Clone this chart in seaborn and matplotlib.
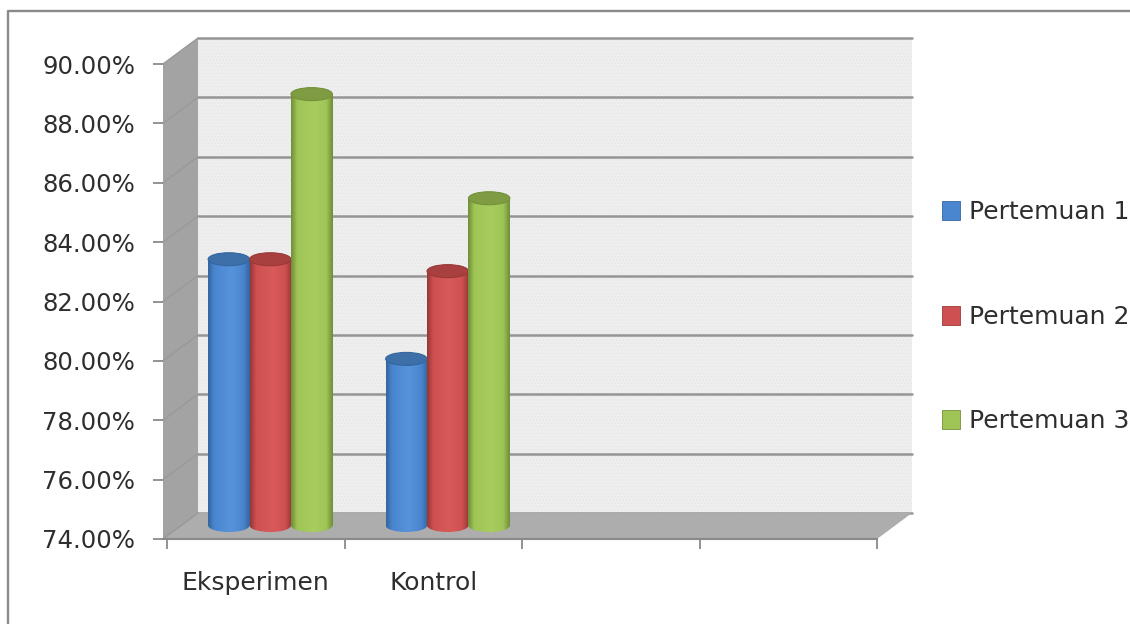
import numpy as np
import pandas as pd
import matplotlib.pyplot as plt
import seaborn as sns
from matplotlib.colors import LinearSegmentedColormap
from matplotlib.lines import Line2D
from matplotlib.patches import Ellipse, Polygon
from matplotlib.ticker import PercentFormatter

# data
kelas = ["Eksperimen", "Kontrol"]
kosong = ["", " "]
pertemuan = ["Pertemuan 1", "Pertemuan 2", "Pertemuan 3"]
nilai_eksperimen = [82.95, 82.95, 88.5]
nilai_kontrol = [79.6, 82.55, 85.0]
tick_y = [74, 76, 78, 80, 82, 84, 86, 88, 90]

warna = ["#4a86d0", "#cf5050", "#9fc556"]
warna_gelap = ["#34669f", "#9a3838", "#72913a"]
warna_atas = ["#3d6fa8", "#a84040", "#7f9c42"]
warna_terang = ["#5793da", "#d85a5a", "#a8cd5e"]

W, H = 1130, 624
sns.set_theme(style="white")
plt.rcParams["font.family"] = ["DejaVu Sans"]
plt.rcParams["hatch.linewidth"] = 0.4


def kotak(x0, y_top, x1, y_bottom):
    # pixel box (from top left) to figure fractions
    return [x0 / W, 1 - y_bottom / H, (x1 - x0) / W, (y_bottom - y_top) / H]


def px(x, y):
    return (x / W, 1 - y / H)


df = pd.DataFrame({
    "kelas": np.repeat(kelas, len(pertemuan)),
    "pertemuan": pertemuan * len(kelas),
    "nilai": nilai_eksperimen + nilai_kontrol,
})

fig = plt.figure(figsize=(W / 100, H / 100), dpi=100, facecolor="white")

# back wall
ax_back = fig.add_axes(kotak(198, 38, 912, 513), zorder=1, facecolor="#eeeeee")
ax_back.patch.set_hatch(".....")
ax_back.patch.set_edgecolor("#e4e4e4")
ax_back.set_ylim(74, 90)
ax_back.set_xticks([])
ax_back.set_yticks(tick_y)
ax_back.tick_params(length=0, labelleft=False)
ax_back.grid(axis="y", color="#959595", lw=1.8, clip_on=False)
ax_back.set_axisbelow(True)
sns.despine(ax=ax_back, left=True, right=True, bottom=True, top=True)

# side wall and floor
fig.add_artist(Polygon([px(163, 64), px(198, 38), px(198, 515), px(163, 539)],
                       closed=True, fc="#a3a3a3", ec="none", zorder=2, transform=fig.transFigure))
fig.add_artist(Polygon([px(163, 539), px(198, 513), px(912, 513), px(877, 539)],
                       closed=True, fc="#adadad", ec="none", zorder=2, transform=fig.transFigure))
for i in range(len(tick_y)):
    y_back = 38 + i * 475 / 16 * 2
    y_front = 64 + i * 475 / 16 * 2
    fig.add_artist(Line2D([px(198, y_back)[0], px(163, y_front)[0]],
                          [px(198, y_back)[1], px(163, y_front)[1]],
                          color="#999999", lw=1, zorder=2, transform=fig.transFigure))

# image border, top and left only
fig.add_artist(Line2D([px(8, 624)[0], px(8, 11)[0], px(1130, 11)[0]],
                      [px(8, 624)[1], px(8, 11)[1], px(1130, 11)[1]],
                      color="#8a8a8a", lw=1.7, zorder=2, transform=fig.transFigure))

# front axes, carries the ticks and labels
ax_front = fig.add_axes(kotak(163, 64, 877, 539), zorder=3, facecolor="none")
ax_front.set_ylim(74, 90)
ax_front.set_xlim(-0.5 - 4 / 177.5, 3.5)
ax_front.set_yticks(tick_y)
ax_front.yaxis.set_major_formatter(PercentFormatter(xmax=100, decimals=2))
ax_front.set_xticks([0, 1])
ax_front.set_xticklabels(kelas)
ax_front.set_xticks([-0.5, 0.5, 1.5, 2.5, 3.5], minor=True)
ax_front.tick_params(axis="x", which="major", length=0, pad=23, labelsize=18, labelcolor="#2e2e2e")
ax_front.tick_params(axis="x", which="minor", length=7, width=1.2, color="#808080", bottom=True)
ax_front.tick_params(axis="y", length=7, width=1.2, color="#808080", pad=13, labelsize=17.6,
                     labelcolor="#2e2e2e", left=True)
sns.despine(ax=ax_front, left=True, top=True, right=True)
ax_front.spines["bottom"].set_color("#8a8a8a")
ax_front.spines["bottom"].set_linewidth(1.5)

# bars stand halfway between the front and the back wall
ax = fig.add_axes(kotak(181.5, 49.5, 891.5, 525.5 + 0.5 * 476 / 16), zorder=4, facecolor="none")
sns.barplot(data=df, x="kelas", y="nilai", hue="pertemuan", order=kelas + kosong,
            hue_order=pertemuan, palette=warna, width=0.7, gap=0, saturation=1, ax=ax)
ax.set_xlim(-0.5, 3.5)
ax.set_ylim(73.5, 90)
handles, labels = ax.get_legend_handles_labels()
ax.get_legend().remove()

tinggi_elips = 13 * 16 / 476
for s, cont in enumerate(ax.containers):
    cmap = LinearSegmentedColormap.from_list(
        "silinder", [(0, warna_gelap[s]), (0.14, warna[s]), (0.55, warna_terang[s]),
                     (0.85, warna[s]), (1, warna_gelap[s])])
    strip = np.linspace(0, 1, 40).reshape(1, -1)
    for bar in cont:
        nilai = bar.get_height()
        if not nilai > 0:
            continue
        x0, w = bar.get_x(), bar.get_width()
        bar.set_y(74)
        bar.set_height(nilai - 74)
        bar.set_edgecolor("none")
        z = 5 + s
        ax.imshow(strip, cmap=cmap, extent=(x0, x0 + w, 74, nilai), aspect="auto",
                  vmin=0, vmax=1, interpolation="bilinear", zorder=z)
        alas = Ellipse((x0 + w / 2, 74), w, tinggi_elips, fc="none", ec="none", zorder=z)
        ax.add_patch(alas)
        gambar = ax.imshow(strip, cmap=cmap, extent=(x0, x0 + w, 73.5, 74.5), aspect="auto",
                           vmin=0, vmax=1, interpolation="bilinear", zorder=z)
        gambar.set_clip_path(alas)
        ax.add_patch(Ellipse((x0 + w / 2, nilai), w, tinggi_elips, fc=warna_atas[s],
                             ec=warna_gelap[s], lw=0.8, zorder=z + 0.5))
ax.set_xlim(-0.5, 3.5)
ax.set_ylim(73.5, 90)
ax.axis("off")

# legend sits to the right of the walls
for h, c in zip(handles, warna_gelap):
    h.set_edgecolor(c)
    h.set_linewidth(0.6)
fig.legend(handles, labels, loc="upper left", bbox_to_anchor=px(942, 200), frameon=False,
           fontsize=18, labelcolor="#2e2e2e", borderpad=0, borderaxespad=0,
           handlelength=0.72, handleheight=0.8, handletextpad=0.36, labelspacing=3.23)

fig.savefig("out.png", dpi=100)
